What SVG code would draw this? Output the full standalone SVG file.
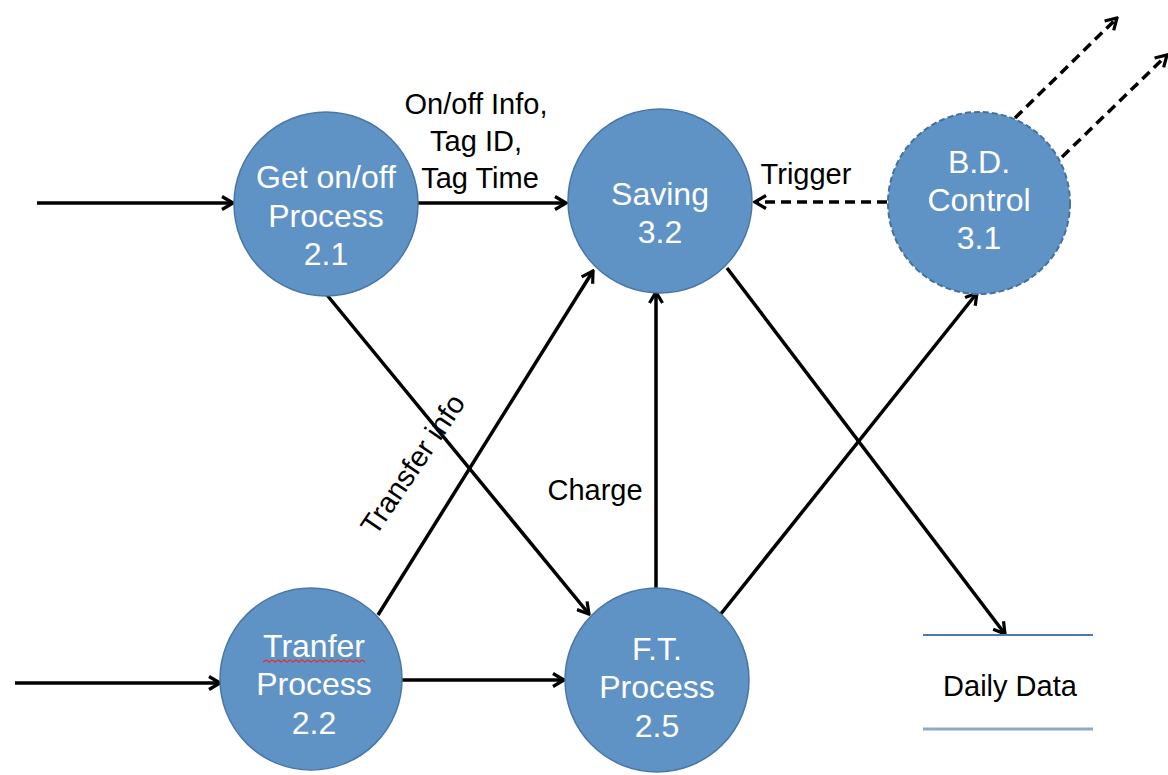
<svg xmlns="http://www.w3.org/2000/svg" width="1168" height="775" viewBox="0 0 1168 775">
<style>
.node{fill:#5f93c6;stroke:#4a77a5;stroke-width:1.5}
.dnode{fill:#5f93c6;stroke:#46719c;stroke-width:2;stroke-dasharray:6 3}
.nt{font-family:"Liberation Sans",Arial,sans-serif;font-size:32px;fill:#ffffff;text-anchor:middle}
.lb{font-family:"Liberation Sans",Arial,sans-serif;font-size:29px;fill:#000000;text-anchor:middle}
.c{fill:none;stroke:#000;stroke-width:3.5;marker-end:url(#ah)}
.cd{fill:none;stroke:#000;stroke-width:3.5;stroke-dasharray:10 6;marker-end:url(#ah)}
</style>
<defs>
<marker id="ah" markerUnits="userSpaceOnUse" viewBox="0 0 16 16" refX="14" refY="8" markerWidth="16" markerHeight="16" orient="auto">
<path d="M3,1.5 L14,8 L3,14.5" fill="none" stroke="#000" stroke-width="3.2" stroke-linejoin="miter"/>
</marker>
</defs>
<rect width="1168" height="775" fill="#fff"/>
<g id="connectors">
<line class="c" x1="37" y1="203" x2="233" y2="203"/>
<line class="c" x1="418" y1="203" x2="566" y2="203"/>
<line class="cd" x1="887" y1="202" x2="755" y2="202"/>
<line class="cd" x1="1015" y1="118" x2="1117" y2="18"/>
<line class="cd" x1="1062" y1="157" x2="1167" y2="55"/>
<line class="c" x1="327" y1="295" x2="589" y2="614"/>
<line class="c" x1="378" y1="615" x2="593" y2="271"/>
<line class="c" x1="656" y1="588" x2="656" y2="292"/>
<line class="c" x1="727" y1="268" x2="1005" y2="634"/>
<line class="c" x1="720" y1="615" x2="977" y2="293"/>
<line class="c" x1="400" y1="680" x2="564" y2="680"/>
<line class="c" x1="15" y1="683" x2="220" y2="683"/>
<text class="lb" x="476" y="114">On/off Info,</text>
<text class="lb" x="476" y="151">Tag ID,</text>
<text class="lb" x="480" y="188">Tag Time</text>
<text class="lb" x="806" y="184">Trigger</text>
<text class="lb" x="595" y="500">Charge</text>
<text class="lb" transform="translate(421,470) rotate(-56)" x="0" y="0">Transfer info</text>
</g>
<g id="n21">
<circle class="node" cx="326" cy="204" r="92"/>
<text class="nt" x="326" y="188">Get on/off</text>
<text class="nt" x="326" y="227">Process</text>
<text class="nt" x="326" y="265">2.1</text>
</g>
<g id="n32">
<circle class="node" cx="660" cy="201" r="92"/>
<text class="nt" x="660" y="205">Saving</text>
<text class="nt" x="660" y="243">3.2</text>
</g>
<g id="n31">
<circle class="dnode" cx="979" cy="203" r="91"/>
<text class="nt" x="979" y="173">B.D.</text>
<text class="nt" x="979" y="211">Control</text>
<text class="nt" x="979" y="249">3.1</text>
</g>
<g id="n22">
<circle class="node" cx="311" cy="679" r="91"/>
<text class="nt" x="314" y="657">Tranfer</text>
<path d="M263,662 l3,-2 l3,2 l3,-2 l3,2 l3,-2 l3,2 l3,-2 l3,2 l3,-2 l3,2 l3,-2 l3,2 l3,-2 l3,2 l3,-2 l3,2 l3,-2 l3,2 l3,-2 l3,2 l3,-2 l3,2 l3,-2 l3,2 l3,-2 l3,2 l3,-2 l3,2 l3,-2 l3,2 l3,-2 l3,2 l3,-2 l3,2" fill="none" stroke="#e03030" stroke-width="1.2"/>
<text class="nt" x="314" y="695">Process</text>
<text class="nt" x="314" y="734">2.2</text>
</g>
<g id="n25">
<circle class="node" cx="657" cy="680" r="92"/>
<text class="nt" x="657" y="660">F.T.</text>
<text class="nt" x="657" y="698">Process</text>
<text class="nt" x="657" y="737">2.5</text>
</g>
<g id="daily">
<line x1="923" y1="635" x2="1093" y2="635" stroke="#4f78a6" stroke-width="2"/>
<line x1="923" y1="729" x2="1093" y2="729" stroke="#8fa9c6" stroke-width="3"/>
<text class="lb" x="1010" y="696">Daily Data</text>
</g>
</svg>
